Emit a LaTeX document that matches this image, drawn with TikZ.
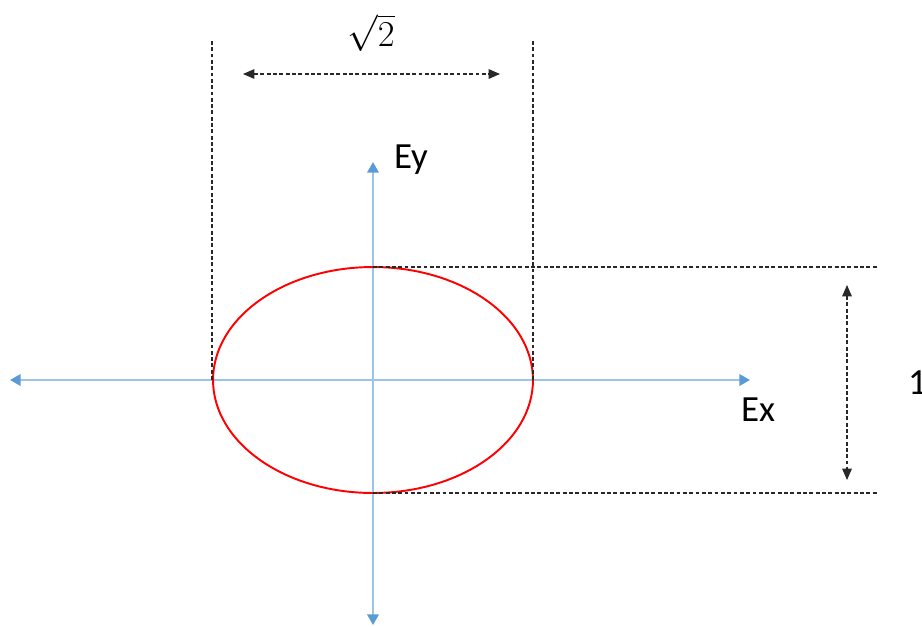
\documentclass[tikz,border=0pt]{standalone}
\usepackage{fontspec}
\setmainfont{Carlito}
\usetikzlibrary{arrows.meta,positioning}
\definecolor{elAxis}   {RGB}{157,195,230}
\definecolor{elAxisTip}{RGB}{ 91,155,213}
\definecolor{elRed}    {RGB}{255,  0,  0}
\definecolor{elGuide}  {RGB}{ 40, 40, 40}

\begin{document}
\begin{tikzpicture}[
  x=0.02cm,y=-0.02cm,
  every node/.style={font=\fontsize{21}{25}\selectfont,inner sep=1pt},
  axisline/.style={draw=elAxis,line width=1.1pt,
                   {Triangle[color=elAxisTip,length=6pt,width=6.5pt]}-{Triangle[color=elAxisTip,length=6pt,width=6.5pt]}},
  guide/.style={draw=elGuide,line width=0.6pt,dash pattern=on 2.2pt off 1.4pt},
  dimline/.style={guide,{Triangle[length=6.5pt,width=5.5pt]}-{Triangle[length=6.5pt,width=5.5pt]}},
  ring/.style={draw=elRed,line width=1.1pt}
]
\useasboundingbox (0,0) rectangle (922,626);

% origin and ellipse extremes
\coordinate (O) at (373,380);
\coordinate (L) at (212,380);
\coordinate (R) at (533,380);
\coordinate (T) at (373,267);
\coordinate (B) at (373,493);

% axes
\coordinate (xl) at (10,380);
\coordinate (xr) at (750,380);
\coordinate (yt) at (373,162);
\coordinate (yb) at (373,625);
\draw[axisline] (xl) -- (xr);
\draw[axisline] (yb) -- (yt);
\node (Ex) at (758,410) {Ex};
\node (Ey) at (411,160) {Ey};

% ellipse
\draw[ring] (O) ellipse [x radius=3.2cm, y radius=2.26cm];

% width guides
\coordinate (gl) at (212,40);
\coordinate (gr) at (533,40);
\draw[guide] (L) -- (gl);
\draw[guide] (R) -- (gr);
\coordinate (wl) at (243,74);
\coordinate (wr) at (500,74);
\draw[dimline] (wl) -- (wr);
\node (wlbl) at (371,33) {$\sqrt{2}$};

% height guides
\coordinate (gt) at (878,267);
\coordinate (gb) at (878,493);
\draw[guide] (T) -- (gt);
\draw[guide] (B) -- (gb);
\coordinate (ht) at (847,285);
\coordinate (hb) at (847,480);
\draw[dimline] (ht) -- (hb);
\node[anchor=west] (hlbl) at (906,383) {1};
\end{tikzpicture}
\end{document}
